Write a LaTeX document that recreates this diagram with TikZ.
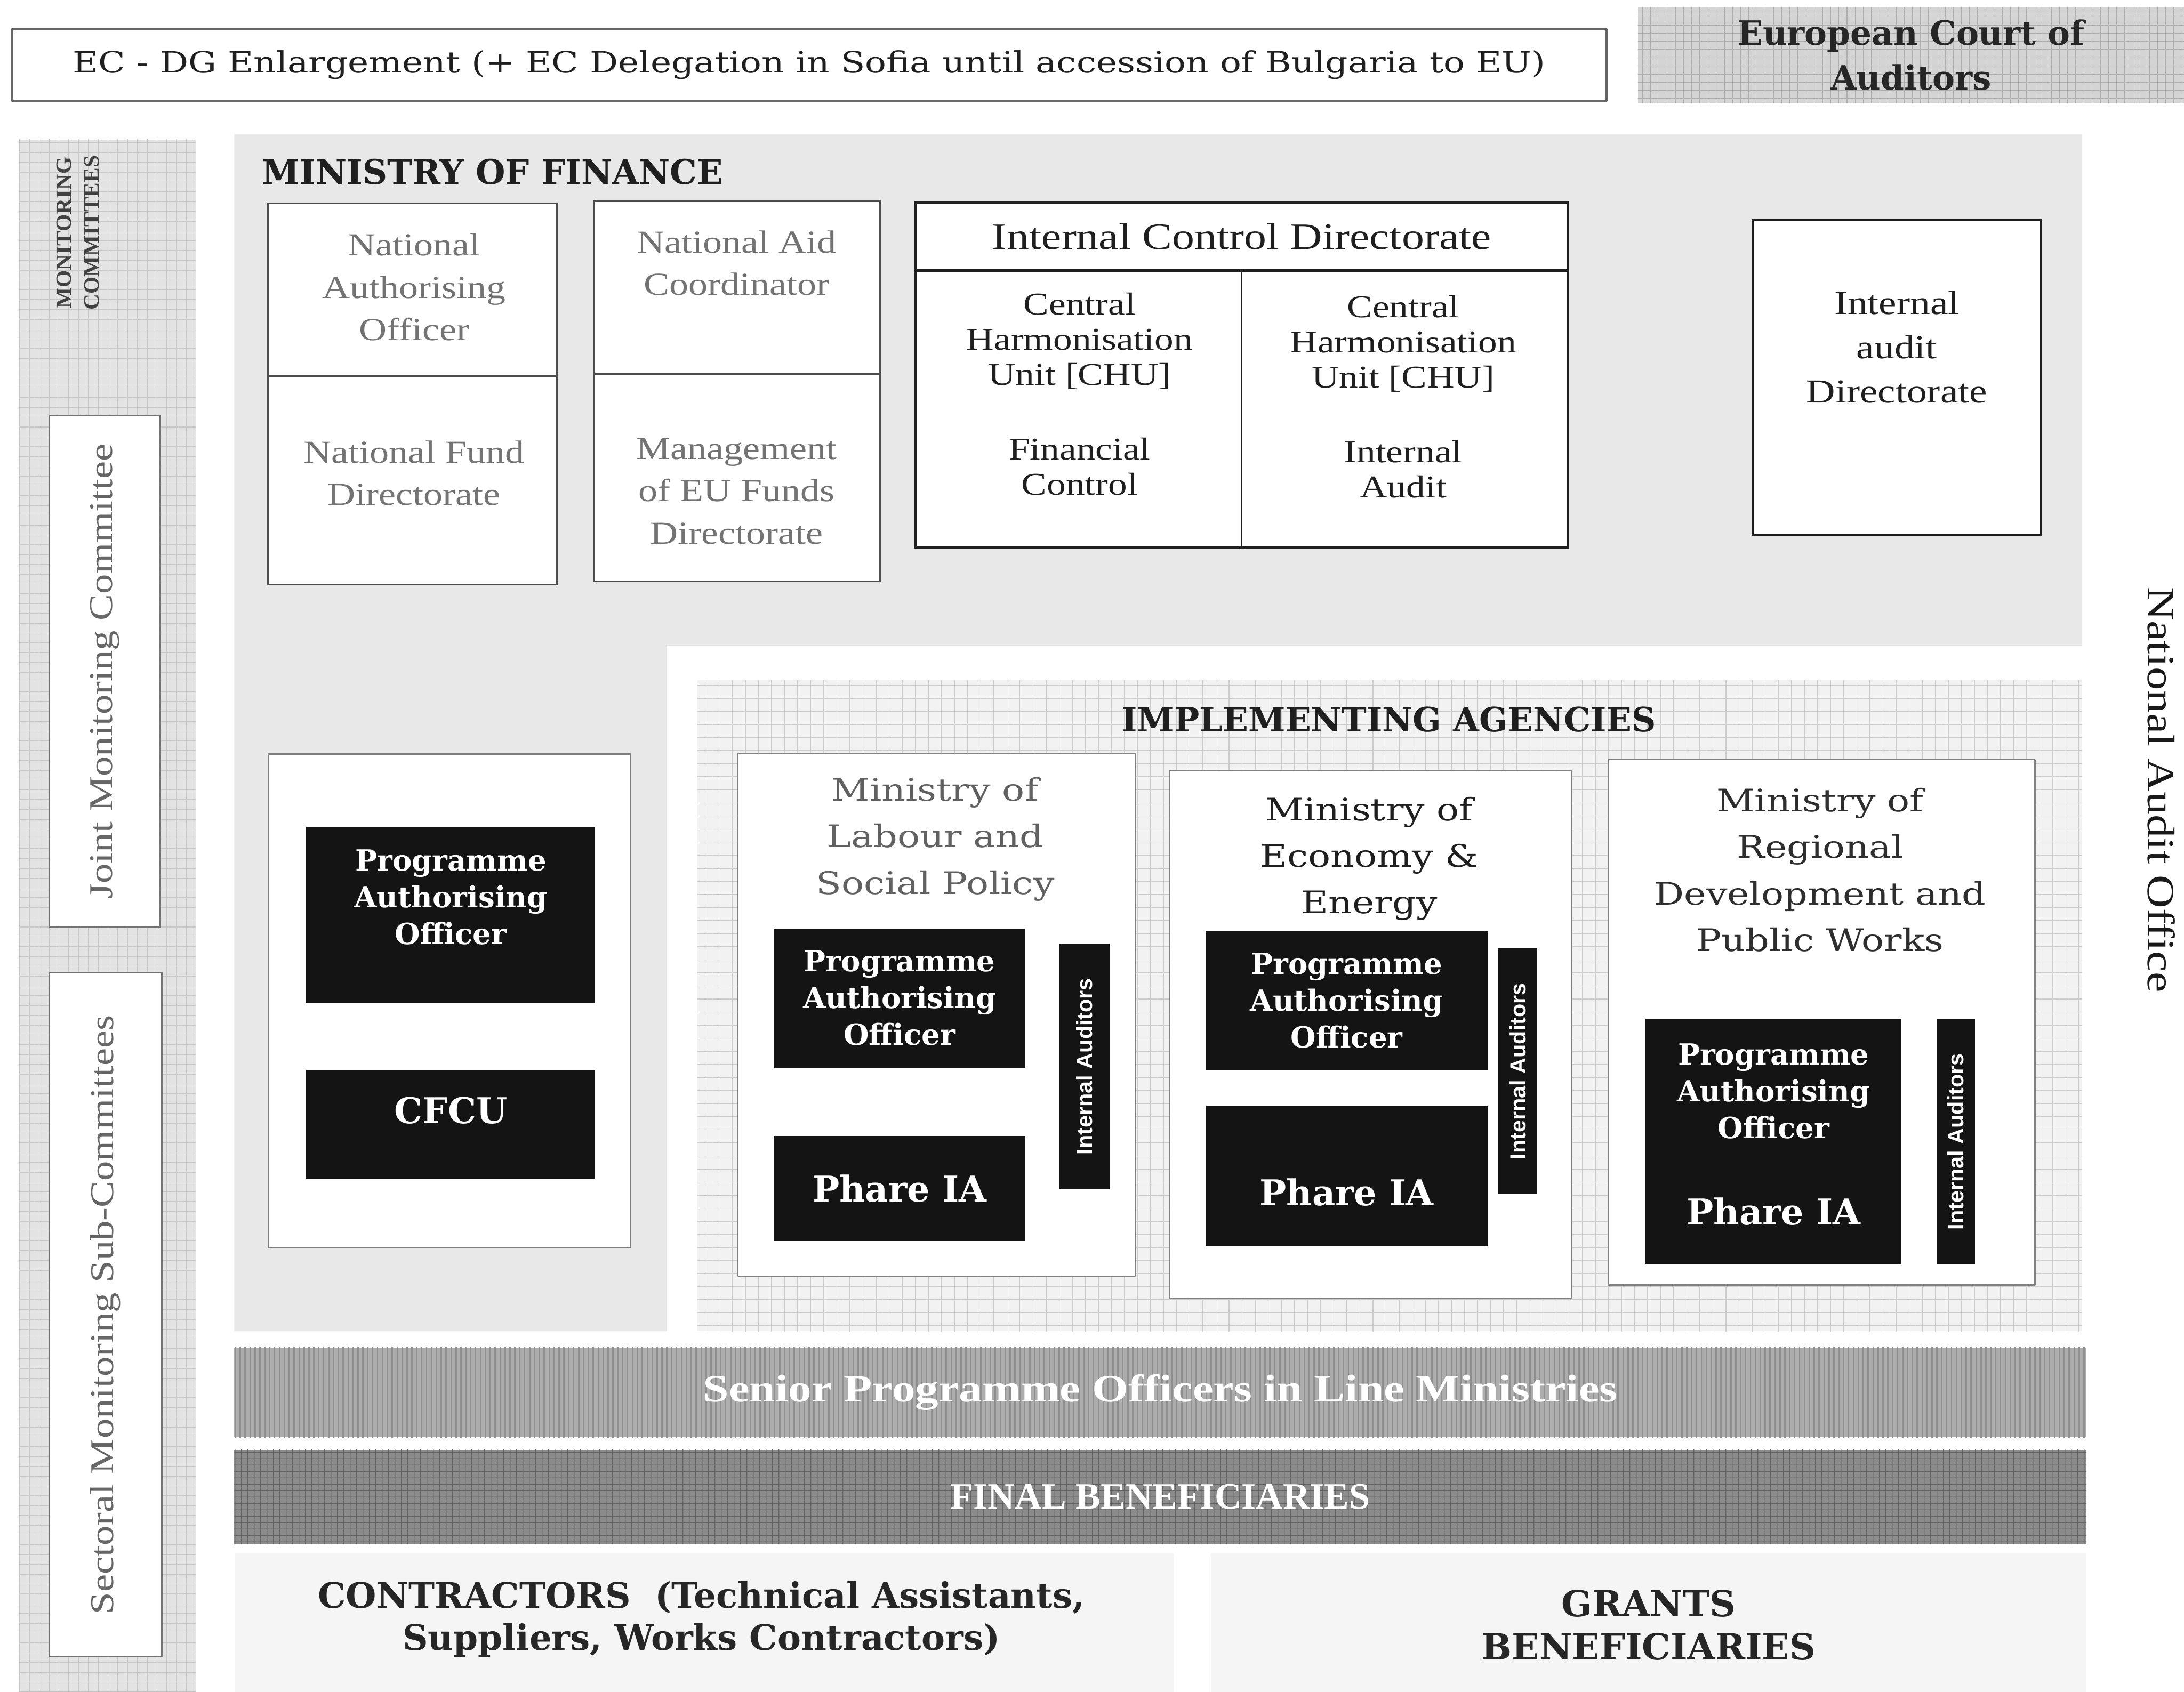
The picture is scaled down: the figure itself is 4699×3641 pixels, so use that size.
\documentclass[tikz,border=0pt]{standalone}
\usepackage{fontspec}
\setmainfont{Liberation Serif}
\newfontfamily\tms[FakeStretch=1.2]{Liberation Serif}
\newfontfamily\slab{DejaVu Serif}
\newfontfamily\wslab[FakeStretch=1.2]{DejaVu Serif}
\newfontfamily\arl{Liberation Sans}
\usetikzlibrary{patterns.meta}
\newcommand\fsz[2]{\fontsize{#1}{#2}\selectfont}

\begin{document}
\begin{tikzpicture}[x=0.01cm,y=-0.01cm,inner sep=0pt,outer sep=0pt,line join=round,
  cell/.style={draw=black!70,line width=1.1pt,fill=white},
  strong/.style={draw=black!88,line width=1.6pt,fill=white},
  soft/.style={draw=black!50,line width=0.8pt,fill=white},
  greytxt/.style={text=black!55,font=\tms\fsz{19.6}{26},align=center},
  darktxt/.style={text=black!88,font=\tms\fsz{19.4}{21.6},align=center},
  minttl/.style={font=\wslab\fsz{19}{28.5},align=center},
  blk/.style={fill=black!92,text=white,font=\slab\bfseries\fsz{17.8}{22.5},align=center},
  blktxt/.style={text=white,font=\slab\bfseries\fsz{17.8}{22.5},align=center},
  phare/.style={text=white,font=\slab\bfseries\fsz{21.8}{26}},
  auditbar/.style={fill=black!92,text=white,font=\arl\bfseries\fsz{13.5}{16},rotate=90},
  heading/.style={text=black!88,font=\slab\bfseries\fsz{20.8}{24}},
  sidebox/.style={draw=black!55,line width=1pt,fill=white,rotate=90,
    text=black!60,font=\tms\fsz{20.3}{24}},
  grid/.style={pattern={Hatch[angle=0,distance=#1,line width=0.45pt]}}]
\useasboundingbox (0,0) rectangle (4699,3641);

\fill[black!11] (40,300) rectangle (422,3641);
\fill[grid=6pt,pattern color=black!22] (40,300) rectangle (422,3641);
\node[rotate=90,align=center,font=\bfseries\fsz{13.5}{17},text=black!75] (moncom)
  at (167,501) {MONITORING\\COMMITTEES};
\node[sidebox,minimum width=11cm,minimum height=2.39cm] (jmc) at (225.5,1445)
  {Joint Monitoring Committee};
\node[sidebox,minimum width=14.71cm,minimum height=2.42cm] (smsc) at (227,2829.5)
  {Sectoral Monitoring Sub-Committees};

\node[draw=black!60,line width=1.4pt,minimum width=34.28cm,minimum height=1.54cm,
  font=\wslab\fsz{18}{20},text=black!88] (ecdg) at (1741,140)
  {EC - DG Enlargement (+ EC Delegation in Sofia until accession of Bulgaria to EU)};
\node[minimum width=11.75cm,minimum height=2.07cm,preaction={fill=black!17},
  grid=5pt,pattern color=black!32,font=\slab\bfseries\fsz{20.5}{27.3},align=center,
  text=black!85] (eca) at (4111.5,118.5) {European Court of\\Auditors};

\node[rotate=-90,font=\tms\fsz{23.6}{28},text=black!90] (nauditoff) at (4650,1700)
  {National Audit Office};

\fill[black!9] (504,288) -- (4479,288) -- (4479,1389) -- (1434,1389)
  -- (1434,2865) -- (504,2865) -- cycle;
\node[heading,anchor=west] (mof) at (564,370) {MINISTRY OF FINANCE};

\node[cell,minimum width=6.22cm,minimum height=3.71cm] (nao) at (887,623.5) {};
\node[cell,minimum width=6.22cm,minimum height=4.49cm] (nfd) at (887,1033.5) {};
\node[cell,minimum width=6.15cm,minimum height=3.73cm] (nac) at (1586.5,618.5) {};
\node[cell,minimum width=6.15cm,minimum height=4.46cm] (meuf) at (1586.5,1028) {};
\node[greytxt] (naotxt) at (891,618) {National\\Authorising\\Officer};
\node[greytxt] (nfdtxt) at (891,1018) {National Fund\\Directorate};
\node[greytxt] (nactxt) at (1585,566) {National Aid\\Coordinator};
\node[greytxt] (meuftxt) at (1585,1057) {Management\\of EU Funds\\Directorate};

\node[strong,minimum width=14.03cm,minimum height=7.43cm] (icd) at (2671.5,806.5) {};
\node[strong,minimum width=14.03cm,minimum height=1.47cm,text=black!88,
  font=\tms\fsz{22.8}{26}] (icdhead) at (2671.5,508.5) {Internal Control Directorate};
\draw[black!88,line width=1pt] (icdhead.south) -- (icd.south);
\node[darktxt] (chufc) at (2323,734) {Central\\Harmonisation\\Unit [CHU]};
\node[darktxt] (fc) at (2323,1004) {Financial\\Control};
\node[darktxt] (chuia) at (3019,740) {Central\\Harmonisation\\Unit [CHU]};
\node[darktxt] (ia) at (3019,1010) {Internal\\Audit};

\node[strong,minimum width=6.2cm,minimum height=6.78cm] (iad) at (4081,812) {};
\node[darktxt,font=\tms\fsz{20.5}{27}] (iadtxt) at (4081,747)
  {Internal\\audit\\Directorate};

\node[soft,minimum width=7.79cm,minimum height=10.62cm] (cfcbox) at (967.5,2154) {};
\node[blk,minimum width=6.21cm,minimum height=3.8cm] (paomf) at (969.5,1969) {};
\node[blktxt] (paomftxt) at (970,1931) {Programme\\Authorising\\Officer};
\node[blk,minimum width=6.21cm,minimum height=2.35cm] (cfcu) at (969.5,2419.5) {};
\node[phare] (cfcutxt) at (970,2390) {CFCU};

\fill[black!5] (1500,1464) rectangle (4479,2865);
\fill[grid=8pt,pattern color=black!20] (1500,1464) rectangle (4479,2865);
\node[heading,font=\slab\bfseries\fsz{20.5}{24}] (implag) at (2988,1548)
  {IMPLEMENTING AGENCIES};

\node[soft,minimum width=8.54cm,minimum height=11.25cm] (molsp) at (2015,2183.5) {};
\node[minttl,text=black!62] (molsptxt) at (2012,1806) {Ministry of\\Labour and\\Social Policy};
\node[blk,minimum width=5.41cm,minimum height=3cm] (paolsp) at (1935.5,2148)
  {Programme\\Authorising\\Officer};
\node[blk,minimum width=5.41cm,minimum height=2.26cm,font=\slab\bfseries\fsz{21.8}{26}]
  (phlsp) at (1935.5,2558) {Phare IA};
\node[auditbar,minimum width=5.26cm,minimum height=1.07cm] (iamlsp) at (2333.5,2295)
  {Internal Auditors};

\node[soft,minimum width=8.64cm,minimum height=11.36cm] (moee) at (2949,2226) {};
\node[minttl,text=black!88] (moeetxt) at (2946,1848) {Ministry of\\Economy \&\\Energy};
\node[blk,minimum width=6.05cm,minimum height=2.99cm] (paoee) at (2897.5,2153.5)
  {Programme\\Authorising\\Officer};
\node[blk,minimum width=6.05cm,minimum height=3.03cm] (phee) at (2897.5,2530.5) {};
\node[phare] (pheetxt) at (2897.5,2566) {Phare IA};
\node[auditbar,minimum width=5.29cm,minimum height=0.83cm] (iamee) at (3265.5,2305.5)
  {Internal Auditors};

\node[soft,minimum width=9.17cm,minimum height=11.3cm] (mrdpw) at (3919.5,2200) {};
\node[minttl,text=black!82] (mrdpwtxt) at (3916,1872)
  {Ministry of\\Regional\\Development and\\Public Works};
\node[blk,minimum width=5.5cm,minimum height=5.28cm] (rdblk) at (3816,2457) {};
\node[blktxt] (paordtxt) at (3816,2348) {Programme\\Authorising\\Officer};
\node[phare] (phrdtxt) at (3816,2607) {Phare IA};
\node[auditbar,minimum width=5.28cm,minimum height=0.82cm] (iamrd) at (4208,2457)
  {Internal Auditors};

\node[minimum width=39.83cm,minimum height=1.93cm,preaction={fill=black!32},
  pattern={Lines[angle=90,distance=3pt,line width=0.9pt]},pattern color=black!44,
  text=white,font=\tms\bfseries\fsz{23.7}{28}] (spo) at (2496.5,2996.5)
  {Senior Programme Officers in Line Ministries};
\node[minimum width=39.83cm,minimum height=2.03cm,preaction={fill=black!45},
  grid=4pt,pattern color=black!62,
  text=white,font=\bfseries\fsz{22.8}{26}] (finben) at (2496.5,3221.5)
  {FINAL BENEFICIARIES};

\fill[black!4] (505,3343) rectangle (2525,3641);
\fill[black!4] (2605,3343) rectangle (4488,3641);
\node[align=center,text=black!85,font=\slab\bfseries\fsz{21.5}{25.6}] (contr)
  at (1509,3485) {CONTRACTORS~~(Technical Assistants,\\Suppliers, Works Contractors)};
\node[align=center,text=black!85,font=\slab\bfseries\fsz{22}{26.5}] (grants)
  at (3547,3497) {GRANTS\\BENEFICIARIES};

\end{tikzpicture}
\end{document}
